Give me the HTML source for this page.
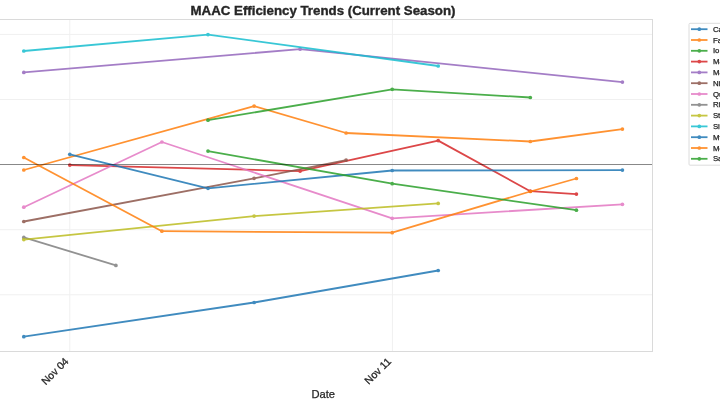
<!DOCTYPE html>
<html><head><meta charset="utf-8"><style>
html,body{margin:0;padding:0;background:#fff;}
body{width:720px;height:405px;overflow:hidden;}
svg{display:block;will-change:transform;font-family:"Liberation Sans",sans-serif;}
</style></head><body>
<svg width="720" height="405" viewBox="0 0 720 405">
<line x1="0" x2="652.5" y1="34.4" y2="34.4" stroke="#f0f0f0" stroke-width="1"/>
<line x1="0" x2="652.5" y1="99.5" y2="99.5" stroke="#f0f0f0" stroke-width="1"/>
<line x1="0" x2="652.5" y1="164.6" y2="164.6" stroke="#f0f0f0" stroke-width="1"/>
<line x1="0" x2="652.5" y1="229.7" y2="229.7" stroke="#f0f0f0" stroke-width="1"/>
<line x1="0" x2="652.5" y1="294.8" y2="294.8" stroke="#f0f0f0" stroke-width="1"/>
<line x1="69.8" x2="69.8" y1="19.5" y2="351.5" stroke="#f0f0f0" stroke-width="1"/>
<line x1="392.4" x2="392.4" y1="19.5" y2="351.5" stroke="#f0f0f0" stroke-width="1"/>
<g opacity="0.85"><polyline points="23.8,336.7 254.1,302.5 438.2,270.5" fill="none" stroke="#1f77b4" stroke-width="1.8" stroke-linejoin="round"/><circle cx="23.8" cy="336.7" r="1.85" fill="#1f77b4"/><circle cx="254.1" cy="302.5" r="1.85" fill="#1f77b4"/><circle cx="438.2" cy="270.5" r="1.85" fill="#1f77b4"/></g>
<g opacity="0.85"><polyline points="23.8,170.0 254.1,106.1 346.1,133.0 530.3,141.5 622.4,129.1" fill="none" stroke="#ff7f0e" stroke-width="1.8" stroke-linejoin="round"/><circle cx="23.8" cy="170.0" r="1.85" fill="#ff7f0e"/><circle cx="254.1" cy="106.1" r="1.85" fill="#ff7f0e"/><circle cx="346.1" cy="133.0" r="1.85" fill="#ff7f0e"/><circle cx="530.3" cy="141.5" r="1.85" fill="#ff7f0e"/><circle cx="622.4" cy="129.1" r="1.85" fill="#ff7f0e"/></g>
<g opacity="0.85"><polyline points="208.0,120.2 392.2,89.3 530.3,97.5" fill="none" stroke="#2ca02c" stroke-width="1.8" stroke-linejoin="round"/><circle cx="208.0" cy="120.2" r="1.85" fill="#2ca02c"/><circle cx="392.2" cy="89.3" r="1.85" fill="#2ca02c"/><circle cx="530.3" cy="97.5" r="1.85" fill="#2ca02c"/></g>
<g opacity="0.85"><polyline points="69.8,165.1 300.1,171.1 438.2,140.6 530.3,191.2 576.4,194.1" fill="none" stroke="#d62728" stroke-width="1.8" stroke-linejoin="round"/><circle cx="69.8" cy="165.1" r="1.85" fill="#d62728"/><circle cx="300.1" cy="171.1" r="1.85" fill="#d62728"/><circle cx="438.2" cy="140.6" r="1.85" fill="#d62728"/><circle cx="530.3" cy="191.2" r="1.85" fill="#d62728"/><circle cx="576.4" cy="194.1" r="1.85" fill="#d62728"/></g>
<g opacity="0.85"><polyline points="23.8,72.4 300.1,49.1 622.4,82.1" fill="none" stroke="#9467bd" stroke-width="1.8" stroke-linejoin="round"/><circle cx="23.8" cy="72.4" r="1.85" fill="#9467bd"/><circle cx="300.1" cy="49.1" r="1.85" fill="#9467bd"/><circle cx="622.4" cy="82.1" r="1.85" fill="#9467bd"/></g>
<g opacity="0.85"><polyline points="23.8,221.5 254.1,178.3 346.1,160.1" fill="none" stroke="#8c564b" stroke-width="1.8" stroke-linejoin="round"/><circle cx="23.8" cy="221.5" r="1.85" fill="#8c564b"/><circle cx="254.1" cy="178.3" r="1.85" fill="#8c564b"/><circle cx="346.1" cy="160.1" r="1.85" fill="#8c564b"/></g>
<g opacity="0.85"><polyline points="23.8,207.2 161.9,142.0 392.2,218.3 622.4,204.3" fill="none" stroke="#e377c2" stroke-width="1.8" stroke-linejoin="round"/><circle cx="23.8" cy="207.2" r="1.85" fill="#e377c2"/><circle cx="161.9" cy="142.0" r="1.85" fill="#e377c2"/><circle cx="392.2" cy="218.3" r="1.85" fill="#e377c2"/><circle cx="622.4" cy="204.3" r="1.85" fill="#e377c2"/></g>
<g opacity="0.85"><polyline points="23.8,237.4 115.9,265.4" fill="none" stroke="#7f7f7f" stroke-width="1.8" stroke-linejoin="round"/><circle cx="23.8" cy="237.4" r="1.85" fill="#7f7f7f"/><circle cx="115.9" cy="265.4" r="1.85" fill="#7f7f7f"/></g>
<g opacity="0.85"><polyline points="23.8,239.6 254.1,216.1 438.2,203.4" fill="none" stroke="#bcbd22" stroke-width="1.8" stroke-linejoin="round"/><circle cx="23.8" cy="239.6" r="1.85" fill="#bcbd22"/><circle cx="254.1" cy="216.1" r="1.85" fill="#bcbd22"/><circle cx="438.2" cy="203.4" r="1.85" fill="#bcbd22"/></g>
<g opacity="0.85"><polyline points="23.8,51.0 208.0,34.6 438.2,66.0" fill="none" stroke="#17becf" stroke-width="1.8" stroke-linejoin="round"/><circle cx="23.8" cy="51.0" r="1.85" fill="#17becf"/><circle cx="208.0" cy="34.6" r="1.85" fill="#17becf"/><circle cx="438.2" cy="66.0" r="1.85" fill="#17becf"/></g>
<g opacity="0.85"><polyline points="69.8,154.3 208.0,188.3 392.2,170.5 622.4,170.1" fill="none" stroke="#1f77b4" stroke-width="1.8" stroke-linejoin="round"/><circle cx="69.8" cy="154.3" r="1.85" fill="#1f77b4"/><circle cx="208.0" cy="188.3" r="1.85" fill="#1f77b4"/><circle cx="392.2" cy="170.5" r="1.85" fill="#1f77b4"/><circle cx="622.4" cy="170.1" r="1.85" fill="#1f77b4"/></g>
<g opacity="0.85"><polyline points="23.8,157.5 161.9,231.2 392.2,232.7 530.3,191.5 576.4,178.5" fill="none" stroke="#ff7f0e" stroke-width="1.8" stroke-linejoin="round"/><circle cx="23.8" cy="157.5" r="1.85" fill="#ff7f0e"/><circle cx="161.9" cy="231.2" r="1.85" fill="#ff7f0e"/><circle cx="392.2" cy="232.7" r="1.85" fill="#ff7f0e"/><circle cx="530.3" cy="191.5" r="1.85" fill="#ff7f0e"/><circle cx="576.4" cy="178.5" r="1.85" fill="#ff7f0e"/></g>
<g opacity="0.85"><polyline points="208.0,151.1 392.2,183.7 576.4,210.2" fill="none" stroke="#2ca02c" stroke-width="1.8" stroke-linejoin="round"/><circle cx="208.0" cy="151.1" r="1.85" fill="#2ca02c"/><circle cx="392.2" cy="183.7" r="1.85" fill="#2ca02c"/><circle cx="576.4" cy="210.2" r="1.85" fill="#2ca02c"/></g>
<line x1="0" x2="652.5" y1="164.5" y2="164.5" stroke="#000" stroke-opacity="0.44" stroke-width="1"/>
<rect x="-5" y="19.5" width="657.5" height="332" fill="none" stroke="#dadada" stroke-width="1"/>
<rect x="689" y="23.3" width="60" height="141.9" rx="1" fill="#fff" fill-opacity="0.8" stroke="#dcdcdc" stroke-width="1"/>
<g opacity="0.85"><line x1="691" x2="707.5" y1="29.2" y2="29.2" stroke="#1f77b4" stroke-width="1.8"/><circle cx="699.3" cy="29.2" r="1.85" fill="#1f77b4"/></g>
<text x="712.9" y="31.8" font-size="7.8" fill="#1e1e1e" stroke="#1e1e1e" stroke-width="0.25">Ca</text>
<g opacity="0.85"><line x1="691" x2="707.5" y1="40.0" y2="40.0" stroke="#ff7f0e" stroke-width="1.8"/><circle cx="699.3" cy="40.0" r="1.85" fill="#ff7f0e"/></g>
<text x="712.9" y="42.6" font-size="7.8" fill="#1e1e1e" stroke="#1e1e1e" stroke-width="0.25">Fa</text>
<g opacity="0.85"><line x1="691" x2="707.5" y1="50.8" y2="50.8" stroke="#2ca02c" stroke-width="1.8"/><circle cx="699.3" cy="50.8" r="1.85" fill="#2ca02c"/></g>
<text x="712.9" y="53.4" font-size="7.8" fill="#1e1e1e" stroke="#1e1e1e" stroke-width="0.25">Io</text>
<g opacity="0.85"><line x1="691" x2="707.5" y1="61.6" y2="61.6" stroke="#d62728" stroke-width="1.8"/><circle cx="699.3" cy="61.6" r="1.85" fill="#d62728"/></g>
<text x="712.9" y="64.2" font-size="7.8" fill="#1e1e1e" stroke="#1e1e1e" stroke-width="0.25">Ma</text>
<g opacity="0.85"><line x1="691" x2="707.5" y1="72.4" y2="72.4" stroke="#9467bd" stroke-width="1.8"/><circle cx="699.3" cy="72.4" r="1.85" fill="#9467bd"/></g>
<text x="712.9" y="75.0" font-size="7.8" fill="#1e1e1e" stroke="#1e1e1e" stroke-width="0.25">Ma</text>
<g opacity="0.85"><line x1="691" x2="707.5" y1="83.2" y2="83.2" stroke="#8c564b" stroke-width="1.8"/><circle cx="699.3" cy="83.2" r="1.85" fill="#8c564b"/></g>
<text x="712.9" y="85.8" font-size="7.8" fill="#1e1e1e" stroke="#1e1e1e" stroke-width="0.25">Ni</text>
<g opacity="0.85"><line x1="691" x2="707.5" y1="94.0" y2="94.0" stroke="#e377c2" stroke-width="1.8"/><circle cx="699.3" cy="94.0" r="1.85" fill="#e377c2"/></g>
<text x="712.9" y="96.6" font-size="7.8" fill="#1e1e1e" stroke="#1e1e1e" stroke-width="0.25">Qu</text>
<g opacity="0.85"><line x1="691" x2="707.5" y1="104.8" y2="104.8" stroke="#7f7f7f" stroke-width="1.8"/><circle cx="699.3" cy="104.8" r="1.85" fill="#7f7f7f"/></g>
<text x="712.9" y="107.4" font-size="7.8" fill="#1e1e1e" stroke="#1e1e1e" stroke-width="0.25">Ri</text>
<g opacity="0.85"><line x1="691" x2="707.5" y1="115.6" y2="115.6" stroke="#bcbd22" stroke-width="1.8"/><circle cx="699.3" cy="115.6" r="1.85" fill="#bcbd22"/></g>
<text x="712.9" y="118.2" font-size="7.8" fill="#1e1e1e" stroke="#1e1e1e" stroke-width="0.25">St</text>
<g opacity="0.85"><line x1="691" x2="707.5" y1="126.4" y2="126.4" stroke="#17becf" stroke-width="1.8"/><circle cx="699.3" cy="126.4" r="1.85" fill="#17becf"/></g>
<text x="712.9" y="129.0" font-size="7.8" fill="#1e1e1e" stroke="#1e1e1e" stroke-width="0.25">Si</text>
<g opacity="0.85"><line x1="691" x2="707.5" y1="137.2" y2="137.2" stroke="#1f77b4" stroke-width="1.8"/><circle cx="699.3" cy="137.2" r="1.85" fill="#1f77b4"/></g>
<text x="712.9" y="139.8" font-size="7.8" fill="#1e1e1e" stroke="#1e1e1e" stroke-width="0.25">Mt</text>
<g opacity="0.85"><line x1="691" x2="707.5" y1="148.0" y2="148.0" stroke="#ff7f0e" stroke-width="1.8"/><circle cx="699.3" cy="148.0" r="1.85" fill="#ff7f0e"/></g>
<text x="712.9" y="150.6" font-size="7.8" fill="#1e1e1e" stroke="#1e1e1e" stroke-width="0.25">Me</text>
<g opacity="0.85"><line x1="691" x2="707.5" y1="158.8" y2="158.8" stroke="#2ca02c" stroke-width="1.8"/><circle cx="699.3" cy="158.8" r="1.85" fill="#2ca02c"/></g>
<text x="712.9" y="161.4" font-size="7.8" fill="#1e1e1e" stroke="#1e1e1e" stroke-width="0.25">Sa</text>
<text x="323" y="15.2" font-size="12.6" font-weight="bold" text-anchor="middle" fill="#262626" stroke="#262626" stroke-width="0.35" textLength="265" lengthAdjust="spacingAndGlyphs">MAAC Efficiency Trends (Current Season)</text>
<text transform="translate(69.2,362.0) rotate(-45)" font-size="10.5" text-anchor="end" fill="#262626" stroke="#262626" stroke-width="0.3">Nov 04</text>
<text transform="translate(391.79999999999995,362.0) rotate(-45)" font-size="10.5" text-anchor="end" fill="#262626" stroke="#262626" stroke-width="0.3">Nov 11</text>
<text x="323.2" y="397.8" font-size="10.4" text-anchor="middle" fill="#262626" stroke="#262626" stroke-width="0.25" textLength="23.6" lengthAdjust="spacingAndGlyphs">Date</text>
</svg>
</body></html>
